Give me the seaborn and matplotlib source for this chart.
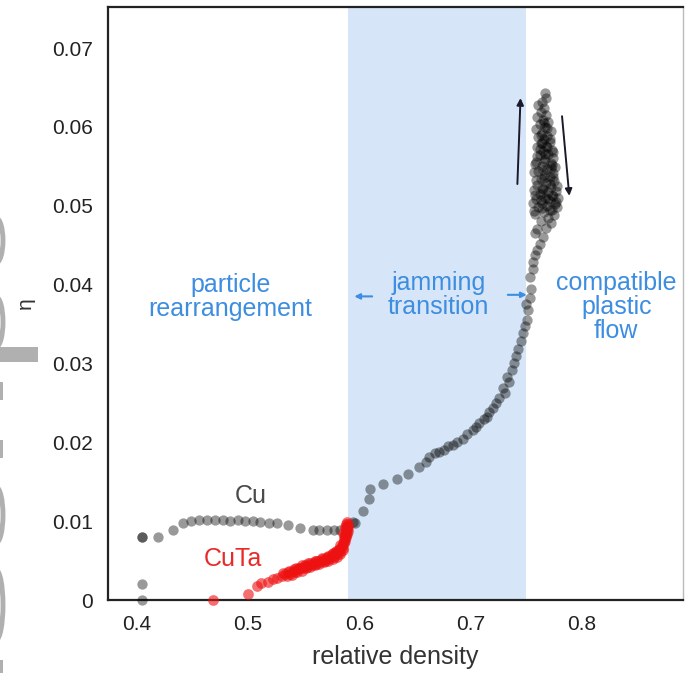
import numpy as np
import pandas as pd
import matplotlib
matplotlib.use("Agg")
import matplotlib.pyplot as plt
import seaborn as sns
from matplotlib.patches import Arc, Rectangle

# ---------------- data ----------------
cu_x = [0.405, 0.405, 0.405, 0.405, 0.419, 0.432, 0.441, 0.449, 0.456, 0.463, 0.470, 0.477,
        0.484, 0.491, 0.497, 0.504, 0.511, 0.519, 0.526, 0.536, 0.547, 0.558, 0.564, 0.571,
        0.577, 0.583, 0.589, 0.594,
        0.596, 0.603, 0.609, 0.610, 0.621, 0.634, 0.644, 0.654, 0.660, 0.663, 0.668, 0.672,
        0.676, 0.680, 0.684, 0.688, 0.693, 0.697, 0.702, 0.705, 0.708, 0.712, 0.715, 0.717,
        0.720, 0.723, 0.726, 0.729, 0.731, 0.735, 0.733, 0.737, 0.739, 0.741, 0.743, 0.745,
        0.747, 0.749, 0.751, 0.752, 0.750, 0.753, 0.754, 0.753, 0.756, 0.756, 0.758, 0.760,
        0.762, 0.765, 0.758,
        0.760, 0.768, 0.772, 0.763, 0.770, 0.775, 0.758, 0.766, 0.773, 0.761, 0.769, 0.776,
        0.764, 0.771, 0.759, 0.767, 0.774, 0.762, 0.770, 0.777, 0.765, 0.772, 0.760, 0.768,
        0.775, 0.763, 0.771, 0.766, 0.774, 0.761, 0.769, 0.776, 0.764, 0.772, 0.759, 0.767,
        0.774, 0.762, 0.770, 0.765, 0.773, 0.760, 0.768, 0.763, 0.771, 0.766, 0.761, 0.769,
        0.764, 0.772, 0.759, 0.767, 0.762, 0.770, 0.765, 0.760, 0.768, 0.763, 0.766, 0.761,
        0.764, 0.768, 0.767,
        0.757, 0.764, 0.771, 0.778, 0.756, 0.763, 0.770, 0.777, 0.758, 0.765, 0.773, 0.779,
        0.757, 0.764, 0.771, 0.778, 0.759, 0.766, 0.774, 0.757, 0.765, 0.772, 0.758, 0.766,
        0.773, 0.760, 0.767, 0.774, 0.762, 0.769, 0.764, 0.771, 0.763, 0.769, 0.766]
cu_y = [0.0000, 0.0020, 0.0080, 0.0080, 0.0080, 0.0089, 0.0098, 0.0100, 0.0101, 0.0101, 0.0101, 0.0101,
        0.0100, 0.0101, 0.0100, 0.0100, 0.0099, 0.0098, 0.0098, 0.0095, 0.0091, 0.0089, 0.0089, 0.0089,
        0.0089, 0.0089, 0.0092, 0.0099,
        0.0098, 0.0113, 0.0128, 0.0141, 0.0147, 0.0153, 0.0160, 0.0169, 0.0175, 0.0181, 0.0186, 0.0188,
        0.0190, 0.0195, 0.0197, 0.0200, 0.0204, 0.0210, 0.0216, 0.0219, 0.0224, 0.0229, 0.0232, 0.0238,
        0.0243, 0.0250, 0.0256, 0.0269, 0.0262, 0.0276, 0.0283, 0.0292, 0.0300, 0.0310, 0.0318, 0.0328,
        0.0339, 0.0347, 0.0355, 0.0368, 0.0375, 0.0383, 0.0395, 0.0410, 0.0420, 0.0429, 0.0437, 0.0444,
        0.0452, 0.0460, 0.0465,
        0.0470, 0.0472, 0.0478, 0.0481, 0.0485, 0.0488, 0.0490, 0.0492, 0.0495, 0.0498, 0.0500, 0.0502,
        0.0504, 0.0506, 0.0508, 0.0510, 0.0512, 0.0515, 0.0517, 0.0519, 0.0521, 0.0524, 0.0526, 0.0529,
        0.0531, 0.0534, 0.0536, 0.0539, 0.0541, 0.0544, 0.0546, 0.0549, 0.0551, 0.0554, 0.0556, 0.0559,
        0.0561, 0.0564, 0.0566, 0.0569, 0.0571, 0.0574, 0.0576, 0.0579, 0.0581, 0.0584, 0.0587, 0.0589,
        0.0592, 0.0595, 0.0597, 0.0600, 0.0603, 0.0606, 0.0609, 0.0612, 0.0615, 0.0619, 0.0624, 0.0628,
        0.0632, 0.0637, 0.0643,
        0.0493, 0.0497, 0.0494, 0.0498, 0.0503, 0.0507, 0.0509, 0.0505, 0.0513, 0.0516, 0.0514, 0.0510,
        0.0520, 0.0523, 0.0527, 0.0525, 0.0533, 0.0535, 0.0537, 0.0543, 0.0545, 0.0548, 0.0553, 0.0557,
        0.0552, 0.0563, 0.0565, 0.0568, 0.0572, 0.0575, 0.0580, 0.0585, 0.0590, 0.0598, 0.0605]

cuta_x = [0.468, 0.500, 0.508, 0.512, 0.518, 0.522, 0.526, 0.530, 0.533, 0.536, 0.538, 0.540,
          0.542, 0.545, 0.547, 0.549, 0.551, 0.553, 0.555, 0.557, 0.559, 0.561, 0.563, 0.565,
          0.567, 0.569, 0.571, 0.573, 0.575, 0.577, 0.578, 0.580, 0.581, 0.582, 0.583, 0.584,
          0.585, 0.585, 0.586, 0.586, 0.587, 0.587, 0.588, 0.588, 0.589, 0.589, 0.590, 0.589,
          0.588, 0.590, 0.587, 0.576, 0.579, 0.572, 0.566, 0.560, 0.554, 0.548, 0.543, 0.537,
          0.531, 0.583, 0.585, 0.588,
          0.535, 0.539, 0.544, 0.548, 0.552, 0.556, 0.560, 0.564, 0.568, 0.572, 0.576, 0.580,
          0.541, 0.546, 0.551, 0.556, 0.561, 0.566, 0.571, 0.575, 0.579, 0.582, 0.584, 0.586,
          0.588, 0.590, 0.589, 0.587, 0.585, 0.583]
cuta_y = [0.0000, 0.0008, 0.0018, 0.0022, 0.0023, 0.0026, 0.0028, 0.0031, 0.0033, 0.0035, 0.0033, 0.0037,
          0.0036, 0.0039, 0.0041, 0.0040, 0.0043, 0.0042, 0.0045, 0.0044, 0.0047, 0.0046, 0.0049, 0.0048,
          0.0051, 0.0050, 0.0053, 0.0052, 0.0056, 0.0055, 0.0059, 0.0058, 0.0062, 0.0065, 0.0061, 0.0069,
          0.0072, 0.0066, 0.0076, 0.0080, 0.0083, 0.0078, 0.0087, 0.0091, 0.0094, 0.0089, 0.0097, 0.0099,
          0.0096, 0.0093, 0.0092, 0.0059, 0.0062, 0.0056, 0.0053, 0.0050, 0.0047, 0.0044, 0.0040, 0.0037,
          0.0034, 0.0070, 0.0085, 0.0084,
          0.0030, 0.0032, 0.0035, 0.0037, 0.0040, 0.0042, 0.0044, 0.0046, 0.0048, 0.0050, 0.0052, 0.0055,
          0.0039, 0.0041, 0.0044, 0.0047, 0.0049, 0.0052, 0.0055, 0.0058, 0.0061, 0.0064, 0.0068, 0.0072,
          0.0080, 0.0088, 0.0084, 0.0075, 0.0064, 0.0058]

x_ticks = [0.4, 0.5, 0.6, 0.7, 0.8]
x_tick_labels = ["0.4", "0.5", "0.6", "0.7", "0.8"]
y_ticks = [0, 0.01, 0.02, 0.03, 0.04, 0.05, 0.06, 0.07]
y_tick_labels = ["0", "0.01", "0.02", "0.03", "0.04", "0.05", "0.06", "0.07"]
jam_region = [0.59, 0.75]

# ---------------- plot ----------------
sns.set_style("white")
plt.rcParams["font.family"] = ["Liberation Sans", "DejaVu Sans"]

W, H = 686, 680
fig = plt.figure(figsize=(W / 100, H / 100), dpi=100)
ax = fig.add_axes([108 / W, 1 - 600 / H, (683 - 108) / W, (600 - 7) / H])

ax.axvspan(jam_region[0], jam_region[1], color="#d6e6f8", zorder=0, lw=0)

df_cu = pd.DataFrame({"x": cu_x, "y": cu_y})
df_cuta = pd.DataFrame({"x": cuta_x, "y": cuta_y})
sns.scatterplot(data=df_cu, x="x", y="y", ax=ax, color="black", alpha=0.4,
                s=55, linewidth=0, zorder=3, clip_on=False)
sns.scatterplot(data=df_cuta, x="x", y="y", ax=ax, color="#ee1111", alpha=0.6,
                s=60, linewidth=0, zorder=4, clip_on=False)

ax.set_xlim(0.374, 0.891)
ax.set_ylim(0, 0.0752)
ax.set_xticks(x_ticks)
ax.set_xticklabels(x_tick_labels)
ax.set_yticks(y_ticks)
ax.set_yticklabels(y_tick_labels)
ax.tick_params(direction="in", length=6, width=1.5, labelsize=15, pad=11,
               colors="#222222", top=False, right=False)
for sp in ax.spines.values():
    sp.set_linewidth(1.6)
    sp.set_color("#222222")
ax.spines["right"].set_color("#bbbbbb")
ax.spines["right"].set_linewidth(1.0)

ax.set_xlabel("relative density", fontsize=18, color="#333333", labelpad=8)
ax.set_ylabel("η", fontsize=15, color="#333333", labelpad=12)

blue = "#3d8de0"
ax.text(0.484, 0.0384, "particle\nrearrangement", color=blue, fontsize=18,
        ha="center", va="center", linespacing=1.0)
ax.text(0.671, 0.0387, "jamming\ntransition", color=blue, fontsize=18,
        ha="center", va="center", linespacing=1.0)
ax.text(0.831, 0.0372, "compatible\nplastic\nflow", color=blue, fontsize=18,
        ha="center", va="center", linespacing=1.0)
ax.text(0.502, 0.0132, "Cu", color="#4a4a4a", fontsize=18, ha="center", va="center")
ax.text(0.486, 0.0052, "CuTa", color="#e82a2a", fontsize=18, ha="center", va="center")

ax.annotate("", xy=(0.593, 0.0385), xytext=(0.614, 0.0385),
            arrowprops=dict(arrowstyle="-|>", color=blue, lw=1.5, mutation_scale=8))
ax.annotate("", xy=(0.753, 0.0387), xytext=(0.731, 0.0387),
            arrowprops=dict(arrowstyle="-|>", color=blue, lw=1.5, mutation_scale=8))
ax.annotate("", xy=(0.745, 0.0640), xytext=(0.742, 0.0524),
            arrowprops=dict(arrowstyle="-|>", color="#1a1a2a", lw=1.4, mutation_scale=10))
ax.annotate("", xy=(0.789, 0.0509), xytext=(0.782, 0.0617),
            arrowprops=dict(arrowstyle="-|>", color="#1a1a2a", lw=1.4, mutation_scale=10))

# left-edge grey remnants
g = "#b0b0b0"
def fy(y):
    return 1 - y / H
fig.add_artist(Rectangle((0, fy(362)), 38 / W, 15 / H, transform=fig.transFigure,
                         color=g, lw=0))
for (y0, y1) in [(218, 263), (297, 347), (487, 543), (570, 640)]:
    yc = (y0 + y1) / 2
    h = (y1 - y0) / H
    fig.add_artist(Arc((-4 / W, fy(yc)), 14 / W, h, theta1=-90, theta2=90,
                       transform=fig.transFigure, color=g, lw=3.5))
for (y0, y1) in [(382, 400), (440, 458), (660, 673)]:
    fig.add_artist(Rectangle((0, fy(y1)), 3 / W, (y1 - y0) / H,
                             transform=fig.transFigure, color=g, lw=0))

fig.savefig("out.png", dpi=100)
